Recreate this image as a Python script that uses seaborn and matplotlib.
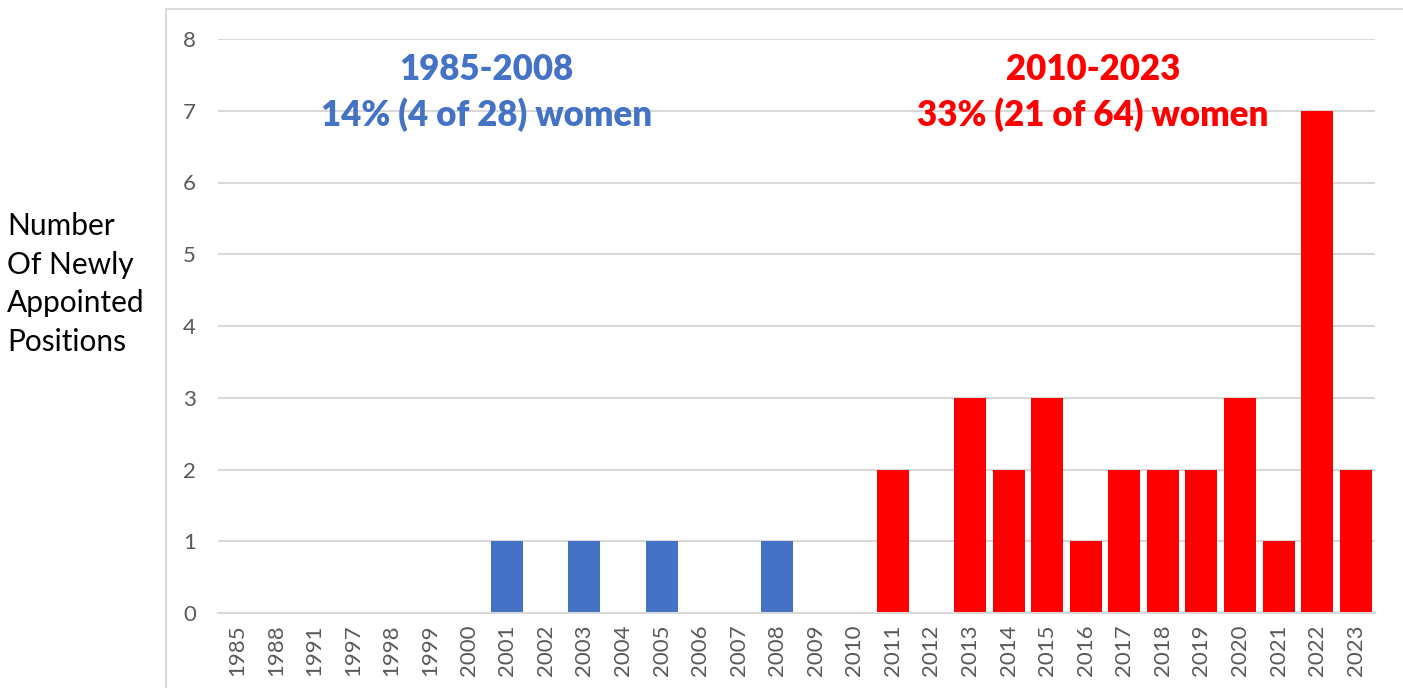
import matplotlib
matplotlib.use("Agg")
import matplotlib.pyplot as plt
import seaborn as sns
import pandas as pd
from matplotlib.patches import Rectangle

years = ["1985", "1988", "1991", "1997", "1998", "1999", "2000", "2001", "2002", "2003",
         "2004", "2005", "2006", "2007", "2008", "2009", "2010", "2011", "2012", "2013",
         "2014", "2015", "2016", "2017", "2018", "2019", "2020", "2021", "2022", "2023"]
counts = [0, 0, 0, 0, 0, 0, 0, 1, 0, 1,
          0, 1, 0, 0, 1, 0, 0, 2, 0, 3,
          2, 3, 1, 2, 2, 2, 3, 1, 7, 2]
periods = ["early" if int(y) <= 2008 else "late" for y in years]

blue = "#4472C4"
red = "#FF0000"
grid_c = "#D9D9D9"

df = pd.DataFrame({"year": years, "count": counts, "period": periods})

sns.set_style("white")
plt.rcParams["font.family"] = ["Lato", "DejaVu Sans"]

fig = plt.figure(figsize=(14.03, 6.88), dpi=100)
# chart-area border
fig.patches.append(Rectangle((166 / 1403, -0.1), 1.0, 1 - 9 / 688 + 0.1,
                             transform=fig.transFigure, fill=False,
                             edgecolor=grid_c, linewidth=1.5, zorder=0))

ax = fig.add_axes([218 / 1403, 1 - 613 / 688, (1375 - 218) / 1403, (613 - 39) / 688])
sns.barplot(data=df, x="year", y="count", hue="period", order=years,
            palette={"early": blue, "late": red}, dodge=False, width=0.83,
            saturation=1, legend=False, linewidth=0, ax=ax)

ax.set_ylim(0, 8)
ax.set_xlim(-0.5, len(years) - 0.5)
ax.set_yticks(range(0, 9))
ax.yaxis.grid(True, color=grid_c, linewidth=1.5)
ax.set_axisbelow(True)
for s in ["top", "right", "left"]:
    ax.spines[s].set_visible(False)
ax.spines["bottom"].set_color(grid_c)
ax.spines["bottom"].set_linewidth(1.5)
ax.tick_params(axis="both", length=0, labelsize=16, labelcolor="#595959")
ax.tick_params(axis="y", pad=16)
ax.tick_params(axis="x", rotation=90, pad=8)
ax.set_xlabel("")
ax.set_ylabel("")

ax.text(6.47, 7.57, "1985-2008", color=blue, fontsize=25, fontweight="heavy",
        ha="center", va="center")
ax.text(6.47, 6.94, "14% (4 of 28) women", color=blue, fontsize=25, fontweight="heavy",
        ha="center", va="center")
ax.text(22.19, 7.57, "2010-2023", color=red, fontsize=25, fontweight="heavy",
        ha="center", va="center")
ax.text(22.19, 6.94, "33% (21 of 64) women", color=red, fontsize=25, fontweight="heavy",
        ha="center", va="center")

fig.text(7 / 1403, 1 - 284 / 688, "Number\nOf Newly\nAppointed\nPositions",
         fontsize=21.5, color="black", ha="left", va="center", linespacing=1.45)

fig.savefig("out.png", dpi=100)
